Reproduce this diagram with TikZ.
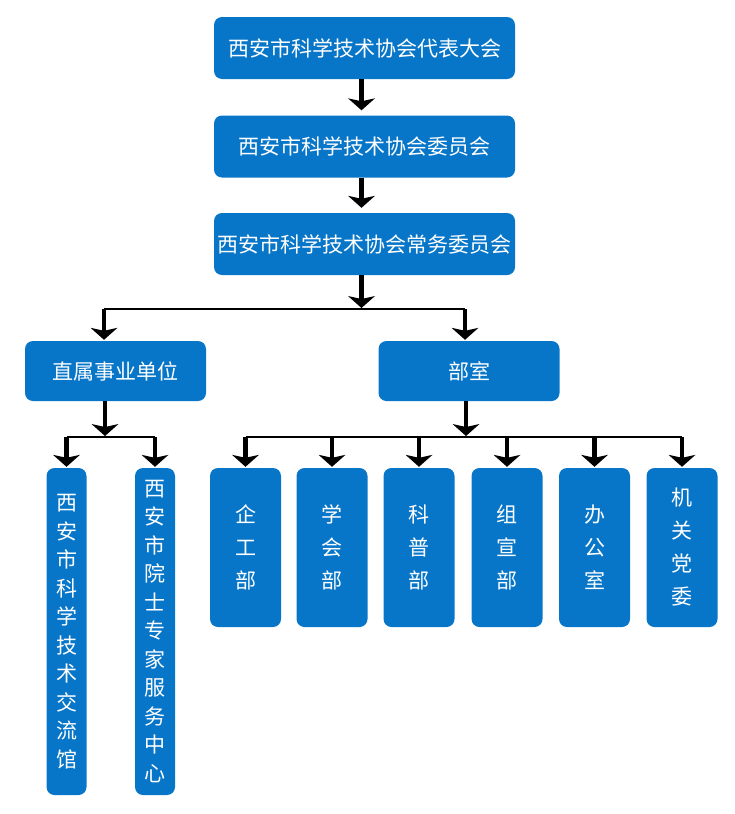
\documentclass[tikz,border=0pt]{standalone}
\usepackage{fontspec}
\setmainfont{Noto Sans CJK SC}
\usepackage{tikz}
\usetikzlibrary{
    arrows.meta,
    positioning,
    calc
}
\definecolor{boxblue}{RGB}{8,118,200}
\tikzstyle{unit} = [
    rectangle,
    rounded corners=8pt,
    fill=boxblue,
    text=white,
    inner sep=0pt,
    font=\fontsize{21}{24}\selectfont
]
\tikzstyle{widebox} = [
    unit,
    minimum width=301pt,
    minimum height=62pt
]
\tikzstyle{midbox} = [
    unit,
    minimum width=181pt,
    minimum height=60pt
]
\tikzstyle{deptbox} = [
    unit,
    minimum width=71pt,
    minimum height=159pt,
    align=center,
    font=\fontsize{21}{33}\selectfont
]
\tikzstyle{tallbox} = [
    unit,
    minimum width=40pt,
    minimum height=327pt,
    align=center,
    font=\fontsize{21}{28.5}\selectfont
]
\tikzstyle{arrow} = [
    -{Stealth[width=27pt, length=12pt, inset=3pt, line width=0pt]},
    line width=4.5pt,
    draw=black
]
\tikzstyle{branch} = [
    line width=1.5pt,
    draw=black
]

\begin{document}
\begin{tikzpicture}[x=1pt, y=-1pt]
        \useasboundingbox (0,0) rectangle (734,814);

        % Top levels
        \node[widebox] (dahui) at (364.5,48) {西安市科学技术协会代表大会};
        \node[widebox] (weiyuan) at (364.5,146.5) {西安市科学技术协会委员会};
        \node[widebox] (changwei) at (364.5,244) {西安市科学技术协会常务委员会};

        \draw[arrow, shorten >=5pt] ($(dahui.south)+(-3,0)$) -- ($(weiyuan.north)+(-3,0)$);
        \draw[arrow, shorten >=5pt] ($(weiyuan.south)+(-3,0)$) -- ($(changwei.north)+(-3,0)$);

        % Second level
        \node[midbox] (zhishu) at (115.5,371) {直属事业单位};
        \node[midbox] (bushi) at (469,371) {部室};

        \coordinate (split1) at (361.5,309);
        \coordinate (leftdrop) at (104,309);
        \coordinate (rightdrop) at (465,309);
        \draw[arrow, shorten >=1pt] (changwei.south -| split1) -- (split1);
        \draw[branch] (leftdrop) -- (rightdrop);
        \draw[arrow, shorten >=1pt] (leftdrop) -- (leftdrop |- zhishu.north);
        \draw[arrow, shorten >=1pt] (rightdrop) -- (rightdrop |- bushi.north);

        % Units under zhishu
        \node[tallbox] (jiaoliu) at (66.5,631.5) {西\\安\\市\\科\\学\\技\\术\\交\\流\\馆};
        \node[tallbox] (yuanshi) at (155,631.5) {西\\安\\市\\院\\士\\专\\家\\服\\务\\中\\心};

        \coordinate (split2) at (105,437);
        \draw[arrow, shorten >=1pt] (zhishu.south -| split2) -- (split2);
        \draw[branch] (jiaoliu.north |- split2) -- (yuanshi.north |- split2);
        \draw[arrow, shorten >=1pt] (jiaoliu.north |- split2) -- (jiaoliu.north);
        \draw[arrow, shorten >=1pt] (yuanshi.north |- split2) -- (yuanshi.north);

        % Departments under bushi
        \node[deptbox] (qigong) at (245.5,547.5) {企\\工\\部};
        \node[deptbox] (xuehui) at (332,547.5) {学\\会\\部};
        \node[deptbox] (kepu) at (419,547.5) {科\\普\\部};
        \node[deptbox] (zuxuan) at (507,547.5) {组\\宣\\部};
        \node[deptbox] (bangong) at (594.5,547.5) {办\\公\\室};
        \node[deptbox] (jiguan) at (682,547.5) {机\\关\\党\\委};

        \coordinate (split3) at (466,437);
        \draw[arrow, shorten >=1pt] (bushi.south -| split3) -- (split3);
        \draw[branch] (qigong.north |- split3) -- (jiguan.north |- split3);
        \draw[arrow, shorten >=1pt] (qigong.north |- split3) -- (qigong.north);
        \draw[arrow, shorten >=1pt] (xuehui.north |- split3) -- (xuehui.north);
        \draw[arrow, shorten >=1pt] (kepu.north |- split3) -- (kepu.north);
        \draw[arrow, shorten >=1pt] (zuxuan.north |- split3) -- (zuxuan.north);
        \draw[arrow, shorten >=1pt] (bangong.north |- split3) -- (bangong.north);
        \draw[arrow, shorten >=1pt] (jiguan.north |- split3) -- (jiguan.north);
    \end{tikzpicture}
\end{document}
